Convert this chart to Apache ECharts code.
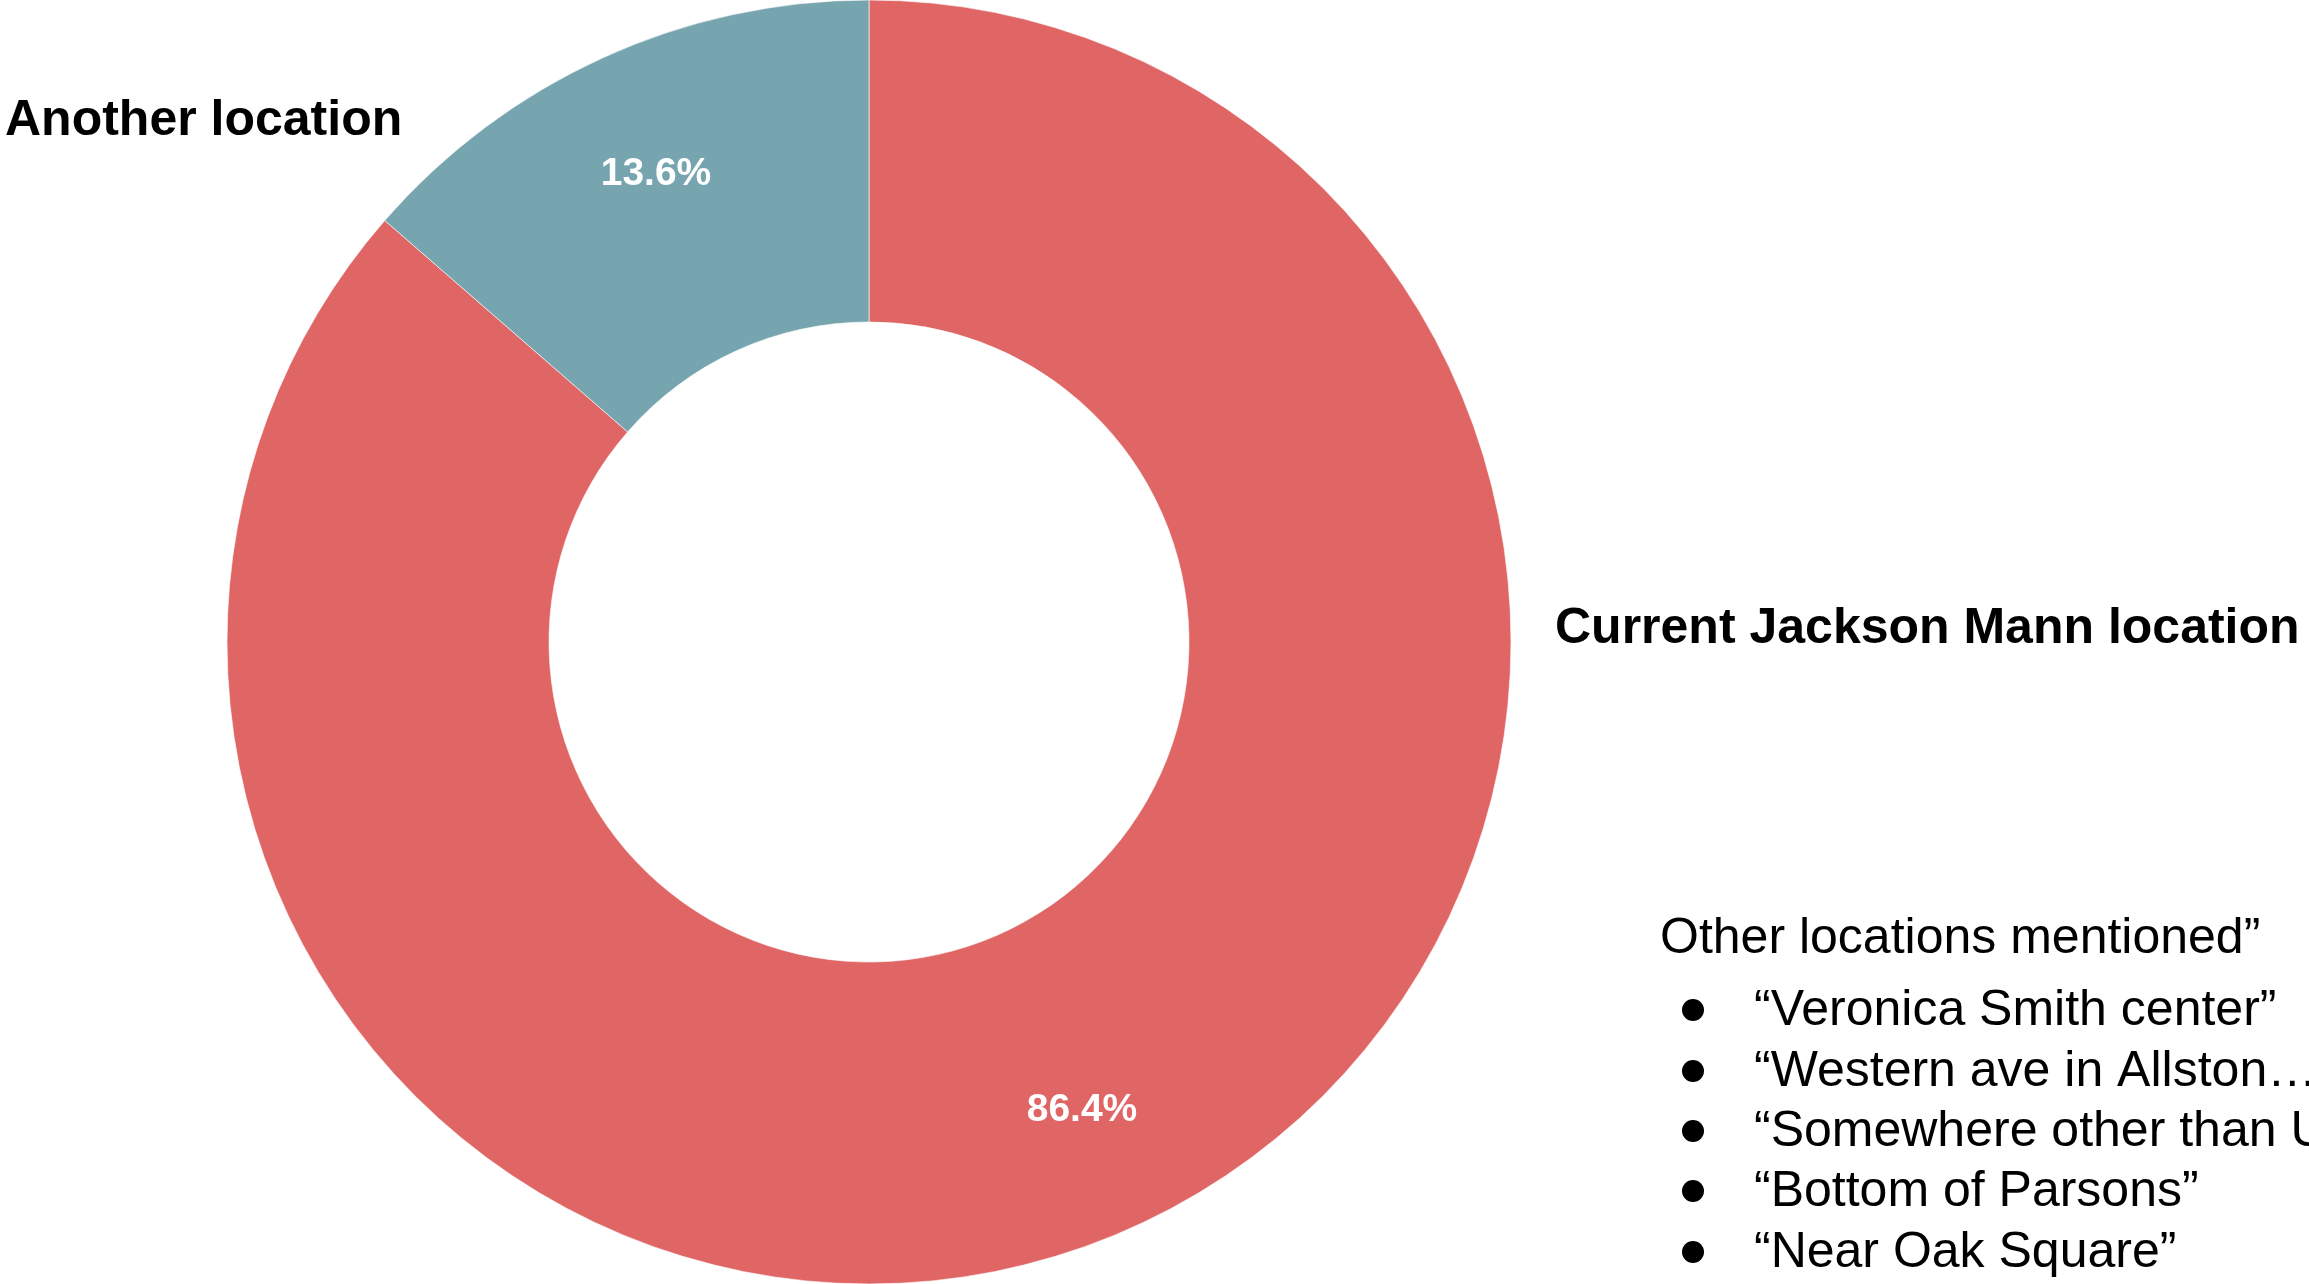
<!DOCTYPE html>
<html>
<head>
<meta charset="utf-8">
<style>
html,body{margin:0;padding:0;background:#fff;}
#chart{width:2309px;height:1284px;}
</style>
<script src="https://cdn.jsdelivr.net/npm/echarts@6/dist/echarts.min.js"></script>
</head>
<body>
<div id="chart"></div>
<script>
// Data
const categories = ['Current Jackson Mann location', 'Another location'];
const percentValues = [86.4, 13.6];
const sliceColors = ['#E06666', '#76A5AF'];
const noteTitle = 'Other locations mentioned\u201D';
const noteItems = [
  '\u201CVeronica Smith center\u201D',
  '\u201CWestern ave in Allston\u2026',
  '\u201CSomewhere other than UHall\u201D',
  '\u201CBottom of Parsons\u201D',
  '\u201CNear Oak Square\u201D'
];

const FONT = '"Liberation Sans", Arial, Helvetica, sans-serif';
const chart = echarts.init(document.getElementById('chart'));

const pieData = categories.map((c, i) => ({
  name: c,
  value: percentValues[i],
  itemStyle: { color: sliceColors[i] }
}));

// Outer-label anchor positions (px)
const outerLabelPos = [
  { x: 1555, y: 629 },
  { x: 5, y: 121 }
];

// Note box graphics
const noteGraphics = [];
noteGraphics.push({
  type: 'text', left: 1660, top: 938 - 24,
  style: { text: noteTitle, font: '50px ' + FONT, fill: '#000' }
});
const itemY = [1010, 1071, 1131, 1191, 1252];
noteItems.forEach((t, i) => {
  noteGraphics.push({
    type: 'circle', shape: { cx: 1693, cy: itemY[i], r: 11 },
    style: { fill: '#000' }
  });
  noteGraphics.push({
    type: 'text', left: 1754, top: itemY[i] - 24,
    style: { text: t, font: '50px ' + FONT, fill: '#000' }
  });
});

chart.setOption({
  backgroundColor: '#fff',
  animation: false,
  graphic: noteGraphics,
  series: [
    {
      type: 'pie',
      center: [869, 642],
      radius: [320, 642],
      startAngle: 90,
      clockwise: true,
      avoidLabelOverlap: false,
      itemStyle: { borderColor: 'rgba(255,255,255,0.6)', borderWidth: 1 },
      label: {
        show: true,
        position: 'outside',
        formatter: '{b}',
        fontFamily: FONT,
        fontSize: 50,
        fontWeight: 'bold',
        color: '#000'
      },
      labelLine: { show: false },
      labelLayout: function (p) {
        const pos = outerLabelPos[p.dataIndex];
        return { x: pos.x, y: pos.y, align: 'left', verticalAlign: 'middle' };
      },
      emphasis: { disabled: true },
      data: pieData
    },
    {
      type: 'pie',
      center: [869, 642],
      radius: [380, 642],
      startAngle: 90,
      clockwise: true,
      silent: true,
      itemStyle: { color: 'rgba(0,0,0,0)' },
      label: {
        show: true,
        position: 'inside',
        formatter: p => p.value.toFixed(1) + '%',
        fontFamily: FONT,
        fontSize: 39,
        fontWeight: 'bold',
        color: '#fff'
      },
      labelLine: { show: false },
      emphasis: { disabled: true },
      data: categories.map((c, i) => ({ name: c, value: percentValues[i] }))
    }
  ]
});
</script>
</body>
</html>
